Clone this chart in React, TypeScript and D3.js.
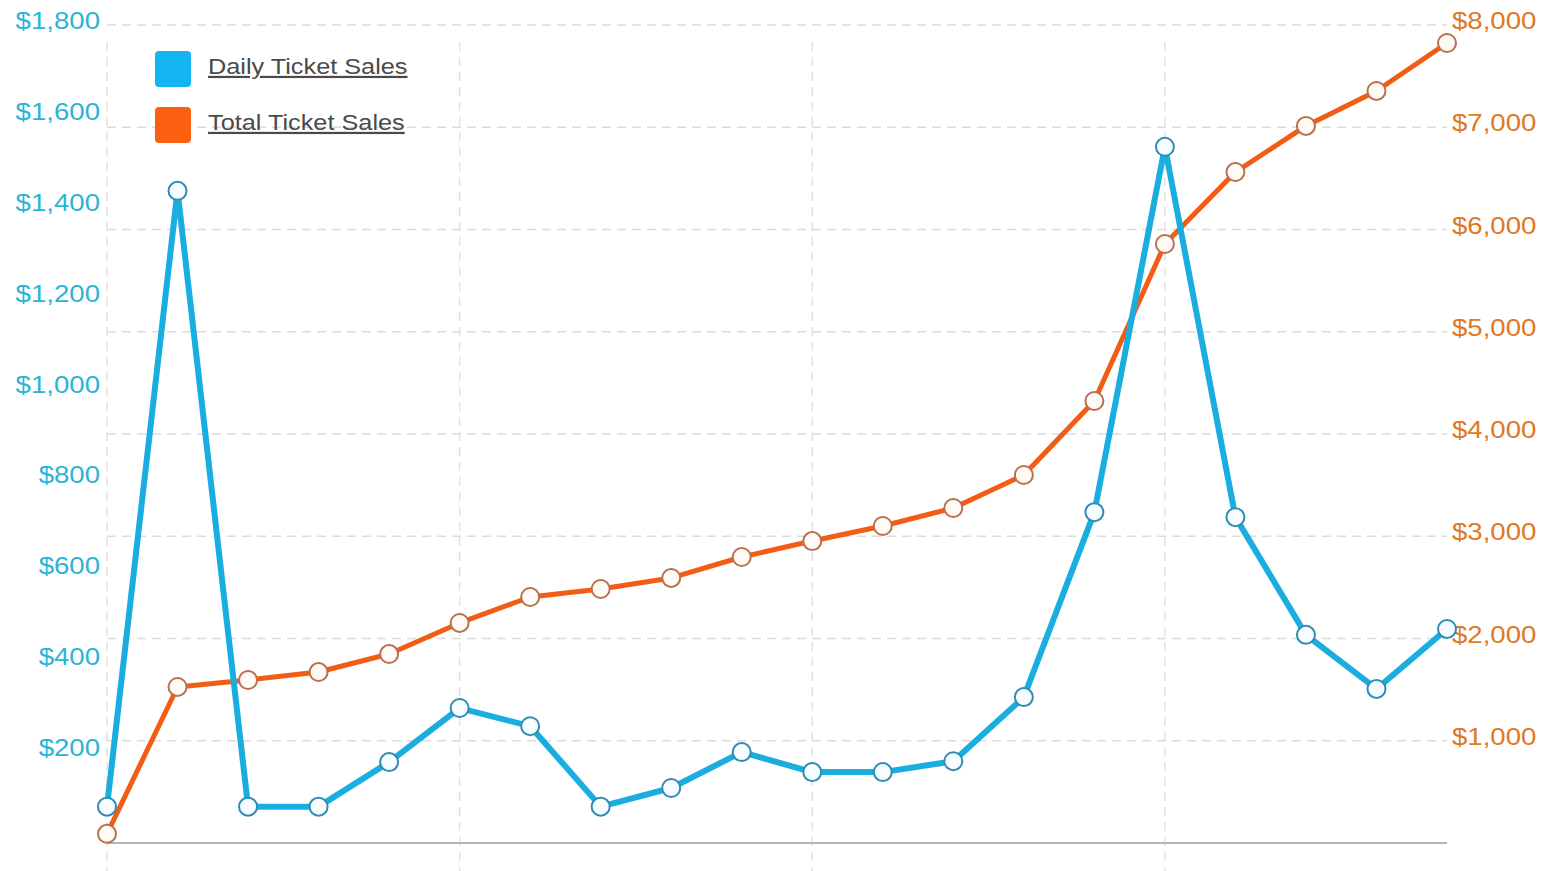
import React from "react";
import * as d3 from "d3";

// Twenty consecutive sale days
const days: number[] = d3.range(1, 21);

// Daily ticket sales in dollars (left axis)
const dailySales: number[] = [
  80, 1435, 80, 80, 178, 297, 257, 80, 121, 200,
  156, 156, 180, 321, 728, 1532, 717, 458, 339, 471,
];

// Running total of ticket sales in dollars (right axis)
const totalSales: number[] = [
  90, 1526, 1594, 1672, 1848, 2152, 2406, 2484, 2592, 2797,
  2953, 3100, 3276, 3599, 4323, 5858, 6562, 7013, 7355, 7824,
];

const leftTicks: number[] = [200, 400, 600, 800, 1000, 1200, 1400, 1600, 1800];
const rightTicks: number[] = [1000, 2000, 3000, 4000, 5000, 6000, 7000, 8000];
const seriesNames: string[] = ["Daily Ticket Sales", "Total Ticket Sales"];

const W = 1552;
const H = 871;
const X0 = 107;
const X1 = 1447;
const Y0 = 843;
const Y1 = 25;

const BLUE = "#1aaee0";
const BLUE_SWATCH = "#12b4f2";
const ORANGE = "#f25c14";
const ORANGE_SWATCH = "#fb6010";
const LEFT_TEXT = "#2cb3d6";
const RIGHT_TEXT = "#e07824";
const STRETCH = 1.2;

const money = (v: number) => "$" + d3.format(",")(v);

export default function App() {
  const x = d3.scaleLinear().domain([1, 20]).range([X0, X1]);
  const yLeft = d3.scaleLinear().domain([0, 1800]).range([Y0, Y1]);
  const yRight = d3.scaleLinear().domain([0, 8000]).range([Y0, Y1]);

  const dailyLine = d3
    .line<number>()
    .x((_, i) => x(days[i]))
    .y((d) => yLeft(d));
  const totalLine = d3
    .line<number>()
    .x((_, i) => x(days[i]))
    .y((d) => yRight(d));

  const verticalDays = days.filter((d) => (d - 1) % 5 === 0);

  return (
    <svg
      width={W}
      height={H}
      style={{ position: "absolute", left: 0, top: 0, background: "#fff" }}
      fontFamily="'Liberation Sans', Arial, sans-serif"
    >
      {/* horizontal grid follows the right-hand axis */}
      {rightTicks.map((t) => (
        <line
          key={"h" + t}
          x1={X0}
          x2={X1}
          y1={yRight(t)}
          y2={yRight(t)}
          stroke="#dcdcdc"
          strokeWidth={1.3}
          strokeDasharray="9,6"
        />
      ))}
      {/* vertical grid every five days */}
      {verticalDays.map((d) => (
        <line
          key={"v" + d}
          x1={x(d)}
          x2={x(d)}
          y1={42}
          y2={H}
          stroke="#dedede"
          strokeWidth={1.3}
          strokeDasharray="9,6"
        />
      ))}
      {/* baseline */}
      <line x1={X0} x2={X1} y1={Y0} y2={Y0} stroke="#b4b4b4" strokeWidth={2} />

      {/* left axis labels */}
      {leftTicks.map((t) => (
        <text
          key={"l" + t}
          transform={`translate(100,${yLeft(t) + 4}) scale(${STRETCH},1)`}
          textAnchor="end"
          fontSize={23}
          fill={LEFT_TEXT}
        >
          {money(t)}
        </text>
      ))}
      {/* right axis labels */}
      {rightTicks.map((t) => (
        <text
          key={"r" + t}
          transform={`translate(1452,${yRight(t) + 4}) scale(${STRETCH},1)`}
          textAnchor="start"
          fontSize={23}
          fill={RIGHT_TEXT}
        >
          {money(t)}
        </text>
      ))}

      {/* total sales */}
      <path d={totalLine(totalSales) ?? ""} fill="none" stroke={ORANGE} strokeWidth={5} strokeLinejoin="round" />
      {/* daily sales */}
      <path d={dailyLine(dailySales) ?? ""} fill="none" stroke={BLUE} strokeWidth={6} strokeLinejoin="round" />

      {totalSales.map((v, i) => (
        <circle
          key={"tc" + i}
          cx={x(days[i])}
          cy={yRight(v)}
          r={9}
          fill="#fffaf4"
          stroke="#b8704e"
          strokeWidth={2}
        />
      ))}
      {dailySales.map((v, i) => (
        <circle
          key={"dc" + i}
          cx={x(days[i])}
          cy={yLeft(v)}
          r={9}
          fill="#f6fcff"
          stroke="#2f8db2"
          strokeWidth={2}
        />
      ))}

      {/* legend */}
      {seriesNames.map((name, i) => (
        <g key={name} transform={`translate(155,${51 + i * 56})`}>
          <rect width={36} height={36} rx={4} fill={i === 0 ? BLUE_SWATCH : ORANGE_SWATCH} />
          <text
            transform={`translate(53,23) scale(${1.15},1)`}
            fontSize={22}
            fill="#4a4a4a"
            textDecoration="underline"
          >
            {name}
          </text>
        </g>
      ))}
    </svg>
  );
}
